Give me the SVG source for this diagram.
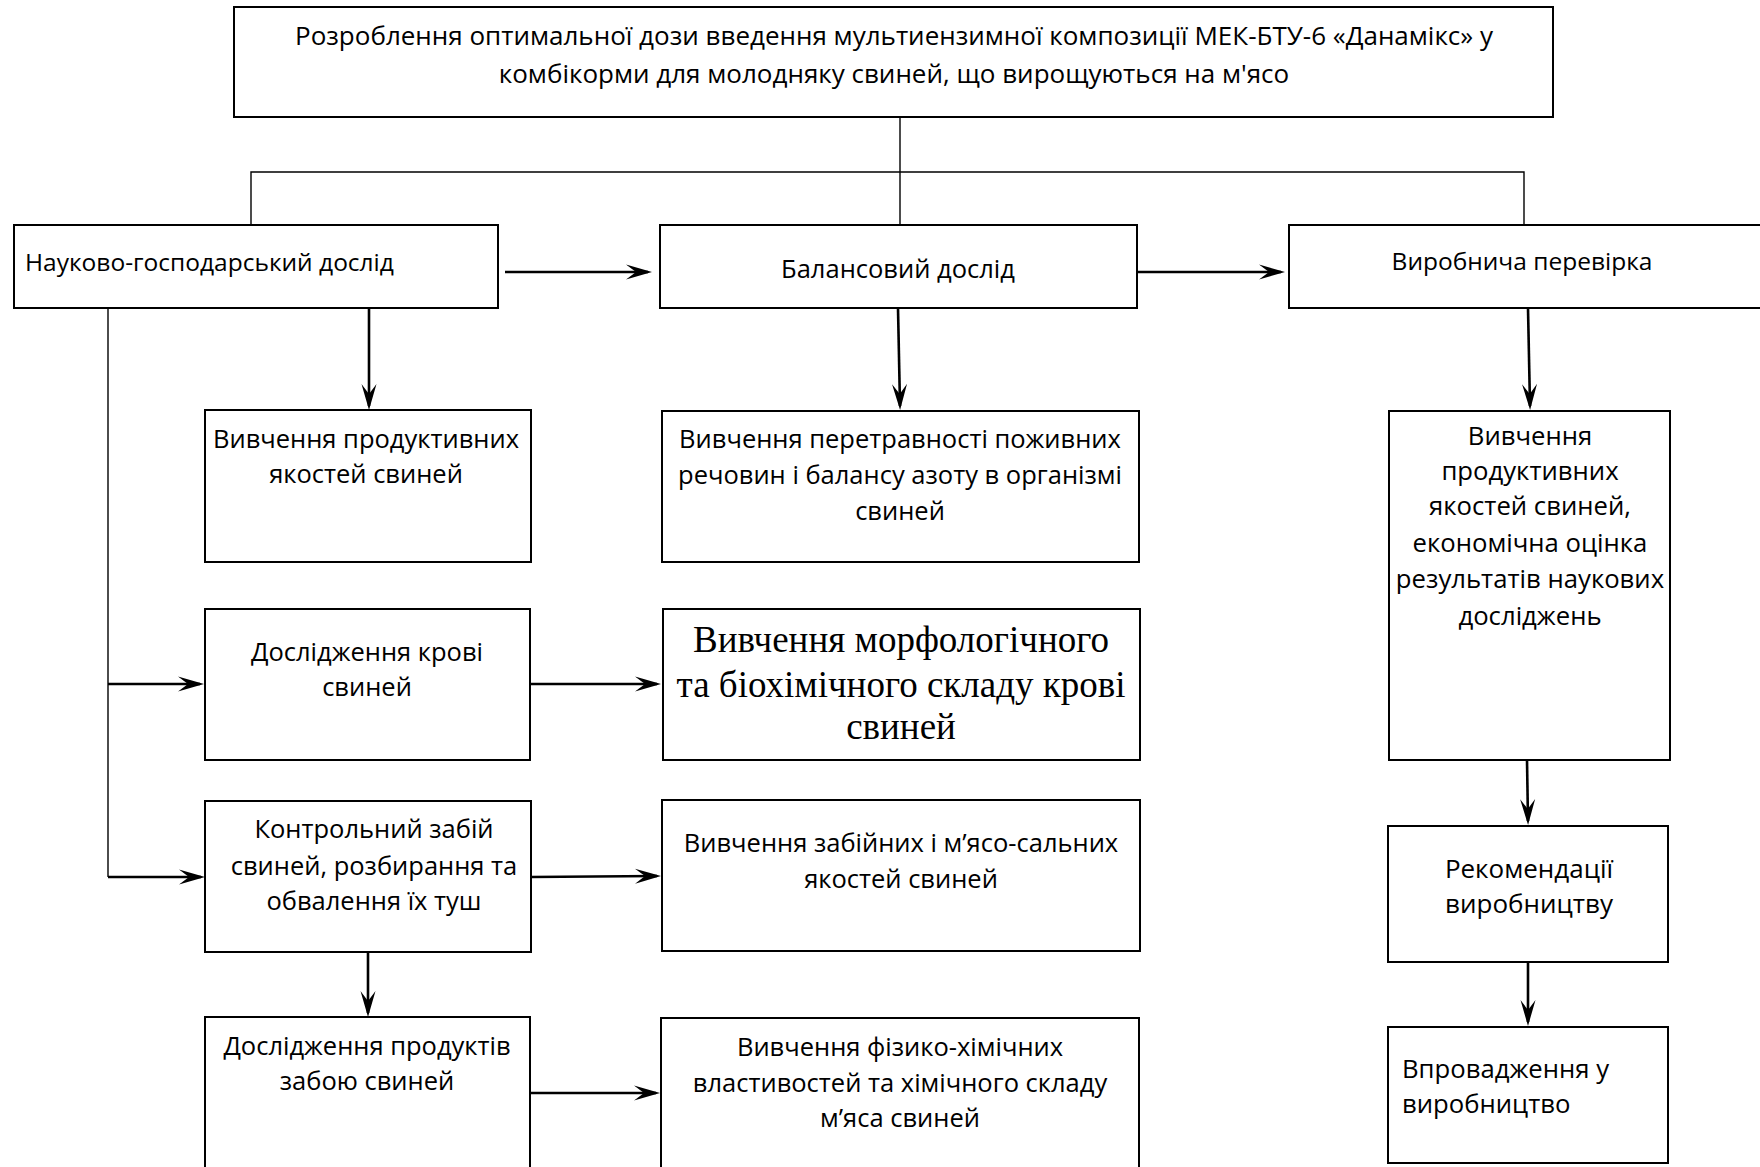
<svg xmlns="http://www.w3.org/2000/svg" width="1760" height="1167" viewBox="0 0 1760 1167">
<style>
.box{fill:#fff;stroke:#000;stroke-width:2}
.t{font-family:"Open Sans","Noto Sans","Liberation Sans",sans-serif;font-size:25.5px;fill:#000}
.big{font-size:26px}
.mid{font-size:25.7px}
.sm{font-size:24.5px}
.c{text-anchor:middle}
.s{font-family:"Liberation Serif","Times New Roman",serif;font-size:37px;fill:#000;text-anchor:middle}
.thin{fill:none;stroke:#000;stroke-width:1.4}
.arr{fill:none;stroke:#000;stroke-width:2.6;marker-end:url(#ah)}
</style>
<defs>
<marker id="ah" markerUnits="userSpaceOnUse" markerWidth="30" markerHeight="18" viewBox="-26 -9 30 18" refX="0" refY="0" orient="auto">
<path d="M4,0 L-22,-7.5 L-12,0 L-22,7.5 Z" fill="#000"/>
</marker>
</defs>
<rect width="1760" height="1167" fill="#fff"/>
<g id="connectors">
<path class="thin" d="M900,117 V225"/>
<path class="thin" d="M251,225 V172 H1524 V225"/>
<path class="thin" d="M108,308 V877"/>
<path class="arr" d="M505,272 H648"/>
<path class="arr" d="M1137,272 H1281"/>
<path class="arr" d="M369,308 V406"/>
<path class="arr" d="M898,308 L900,406"/>
<path class="arr" d="M1528,308 L1530,406"/>
<path class="arr" d="M108,684 H200"/>
<path class="arr" d="M530,684 H657"/>
<path class="arr" d="M108,877 H201"/>
<path class="arr" d="M531,877 L657,876"/>
<path class="arr" d="M368,952 V1013"/>
<path class="arr" d="M530,1093 H656"/>
<path class="arr" d="M1527,760 L1528,821"/>
<path class="arr" d="M1528,962 V1022"/>
</g>
<g id="n-top">
<rect class="box" x="234" y="7" width="1319" height="110"/>
<text class="t big c" x="894" y="45">Розроблення оптимальної дози введення мультиензимної композиції МЕК-БТУ-6 «Данамікс» у</text>
<text class="t big c" x="894" y="83">комбікорми для молодняку свиней, що вирощуються на м'ясо</text>
</g>
<g id="n-nauk">
<rect class="box" x="14" y="225" width="484" height="83"/>
<text class="t sm" x="25" y="271">Науково-господарський дослід</text>
</g>
<g id="n-balans">
<rect class="box" x="660" y="225" width="477" height="83"/>
<text class="t c" x="898" y="278">Балансовий дослід</text>
</g>
<g id="n-vyrobn">
<rect class="box" x="1289" y="225" width="490" height="83"/>
<text class="t sm c" x="1522" y="270">Виробнича перевірка</text>
</g>
<g id="n-prod">
<rect class="box" x="205" y="410" width="326" height="152"/>
<text class="t c" x="366" y="448">Вивчення продуктивних</text>
<text class="t c" x="366" y="483">якостей свиней</text>
</g>
<g id="n-peretr">
<rect class="box" x="662" y="411" width="477" height="151"/>
<text class="t c" x="900" y="448">Вивчення перетравності поживних</text>
<text class="t c" x="900" y="484">речовин і балансу азоту в організмі</text>
<text class="t c" x="900" y="520">свиней</text>
</g>
<g id="n-krovi">
<rect class="box" x="205" y="609" width="325" height="151"/>
<text class="t c" x="367" y="661">Дослідження крові</text>
<text class="t c" x="367" y="696">свиней</text>
</g>
<g id="n-morf">
<rect class="box" x="663" y="609" width="477" height="151"/>
<text class="s" x="901" y="652">Вивчення морфологічного</text>
<text class="s" x="901" y="697">та біохімічного складу крові</text>
<text class="s" x="901" y="739">свиней</text>
</g>
<g id="n-kontr">
<rect class="box" x="205" y="801" width="326" height="151"/>
<text class="t c" x="374" y="838">Контрольний забій</text>
<text class="t c" x="374" y="875">свиней, розбирання та</text>
<text class="t c" x="374" y="910">обвалення їх туш</text>
</g>
<g id="n-zabiy">
<rect class="box" x="662" y="800" width="478" height="151"/>
<text class="t c" x="901" y="852">Вивчення забійних і м’ясо-сальних</text>
<text class="t c" x="901" y="888">якостей свиней</text>
</g>
<g id="n-produkt">
<rect class="box" x="205" y="1017" width="325" height="170"/>
<text class="t c" x="367" y="1055">Дослідження продуктів</text>
<text class="t c" x="367" y="1090">забою свиней</text>
</g>
<g id="n-fizyko">
<rect class="box" x="661" y="1018" width="478" height="170"/>
<text class="t c" x="900" y="1056">Вивчення фізико-хімічних</text>
<text class="t c" x="900" y="1092">властивостей та хімічного складу</text>
<text class="t c" x="900" y="1127">м’яса свиней</text>
</g>
<g id="n-ekon">
<rect class="box" x="1389" y="411" width="281" height="349"/>
<text class="t mid c" x="1530" y="445">Вивчення</text>
<text class="t mid c" x="1530" y="480">продуктивних</text>
<text class="t mid c" x="1530" y="515">якостей свиней,</text>
<text class="t mid c" x="1530" y="552">економічна оцінка</text>
<text class="t mid c" x="1530" y="588">результатів наукових</text>
<text class="t mid c" x="1530" y="625">досліджень</text>
</g>
<g id="n-rekom">
<rect class="box" x="1388" y="826" width="280" height="136"/>
<text class="t big c" x="1529" y="878">Рекомендації</text>
<text class="t big c" x="1529" y="913">виробництву</text>
</g>
<g id="n-vprov">
<rect class="box" x="1388" y="1027" width="280" height="136"/>
<text class="t mid" x="1402" y="1078">Впровадження у</text>
<text class="t mid" x="1402" y="1113">виробництво</text>
</g>
</svg>
